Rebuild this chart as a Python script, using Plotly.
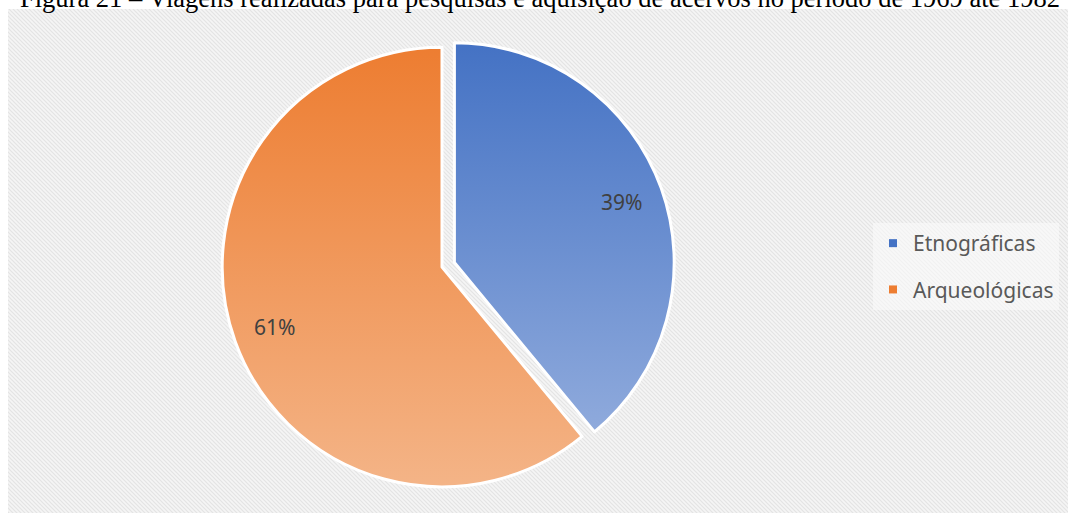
import math
import plotly.graph_objects as go

# ---- data ----
labels = ["Etnográficas", "Arqueológicas"]
values = [39, 61]
colors_top = ["#4472C4", "#ED7D31"]
colors_bottom = ["#8FAADC", "#F4B487"]
pulls = [0.06, 0.0]
title_text = "Figura 21 – Viagens realizadas para pesquisas e aquisição de acervos no período de 1969 até 1982"

W, H = 1068, 513
dom_x = [0.1957, 0.632]
dom_y = [0.0253, 0.9337]

fig = go.Figure()
fig.add_trace(go.Pie(
    labels=labels, values=values, sort=False, direction="clockwise", rotation=0,
    pull=pulls, textinfo="none", hoverinfo="label+percent",
    marker=dict(colors=colors_top, line=dict(color="white", width=3)),
    domain=dict(x=dom_x, y=dom_y), showlegend=False,
))

# legend entries
for i, (lab, col) in enumerate(zip(labels, colors_top)):
    fig.add_trace(go.Scatter(
        x=[None], y=[None], mode="markers", name=lab, legendgroup=f"g{i}",
        marker=dict(symbol="square", size=8, color=col),
    ))

# percentage labels placed from data-derived angles
total = sum(values)
cx = (dom_x[0] + dom_x[1]) / 2 * W
cy = (1 - (dom_y[0] + dom_y[1]) / 2) * H
r = min((dom_x[1] - dom_x[0]) * W, (dom_y[1] - dom_y[0]) * H) / 2 / (1 + max(pulls))
cum = 0
annotations = []
for v, p in zip(values, pulls):
    mid = (cum + v / 2) / total * 2 * math.pi
    cum += v
    rr = (p + 0.81) * r
    px = cx + rr * math.sin(mid)
    py = cy - rr * math.cos(mid)
    annotations.append(dict(
        x=px / W, y=1 - py / H, xref="paper", yref="paper", showarrow=False,
        xanchor="center", yanchor="middle",
        text=f"{round(v / total * 100)}%",
        font=dict(family="Noto Sans", size=21, color="#404040"),
    ))

annotations.append(dict(
    x=0.506, y=1, xref="paper", yref="paper", xanchor="center", yanchor="bottom",
    yshift=-15, showarrow=False, text=title_text,
    font=dict(family="Liberation Serif", size=26.5, color="black"),
))

fig.update_layout(
    width=W, height=H,
    margin=dict(l=0, r=0, t=0, b=0),
    paper_bgcolor="white", plot_bgcolor="rgba(0,0,0,0)",
    xaxis=dict(visible=False), yaxis=dict(visible=False),
    showlegend=True,
    legend=dict(
        x=873 / W, y=1 - 223 / H, xanchor="left", yanchor="top",
        bgcolor="rgba(250,250,250,0.6)", borderwidth=0,
        font=dict(family="Noto Sans", size=21, color="#595959"),
        tracegroupgap=16, traceorder="grouped",
    ),
    shapes=[dict(type="rect", xref="paper", yref="paper",
                 x0=8 / W, x1=1.0, y0=0, y1=1 - 9 / H,
                 line=dict(width=0), fillcolor="#EFEFEF", layer="below")],
    annotations=annotations,
)

post = """
document.body.style.margin = '0';
document.body.style.padding = '0';
var gd = document.getElementById('{plot_id}');
var svgNS = 'http://www.w3.org/2000/svg';
var svg = gd.querySelector('svg.main-svg');
var defs = svg.querySelector('defs');
if (!defs) { defs = document.createElementNS(svgNS, 'defs'); svg.insertBefore(defs, svg.firstChild); }
var tops = %s, bots = %s;
for (var i = 0; i < tops.length; i++) {
  var g = document.createElementNS(svgNS, 'linearGradient');
  g.setAttribute('id', 'pgrad' + i);
  g.setAttribute('x1', '0'); g.setAttribute('y1', '0');
  g.setAttribute('x2', '0'); g.setAttribute('y2', '1');
  var s1 = document.createElementNS(svgNS, 'stop');
  s1.setAttribute('offset', '0'); s1.setAttribute('stop-color', tops[i]);
  var s2 = document.createElementNS(svgNS, 'stop');
  s2.setAttribute('offset', '1'); s2.setAttribute('stop-color', bots[i]);
  g.appendChild(s1); g.appendChild(s2); defs.appendChild(g);
}
var pat = document.createElementNS(svgNS, 'pattern');
pat.setAttribute('id', 'hatchbg'); pat.setAttribute('patternUnits', 'userSpaceOnUse');
pat.setAttribute('width', '4'); pat.setAttribute('height', '4');
var bg = document.createElementNS(svgNS, 'rect');
bg.setAttribute('width', '4'); bg.setAttribute('height', '4'); bg.setAttribute('fill', '#F5F5F5');
pat.appendChild(bg);
var ln = document.createElementNS(svgNS, 'path');
ln.setAttribute('d', 'M0,0 L4,4 M-1,3 L1,5 M3,-1 L5,1');
ln.setAttribute('stroke', '#E4E4E4'); ln.setAttribute('stroke-width', '1.2');
pat.appendChild(ln);
defs.appendChild(pat);
var slices = gd.querySelectorAll('.pielayer .slice path.surface');
slices.forEach(function(p, i) { p.style.fill = 'url(#pgrad' + i + ')'; p.style.fillOpacity = 1; });
gd.querySelectorAll('.shapelayer path').forEach(function(p) { p.style.fill = 'url(#hatchbg)'; p.style.fillOpacity = 1; });
""" % (str(colors_top).replace("'", '"'), str(colors_bottom).replace("'", '"'))

fig.write_html("out.html", post_script=post, config={"displayModeBar": False})
